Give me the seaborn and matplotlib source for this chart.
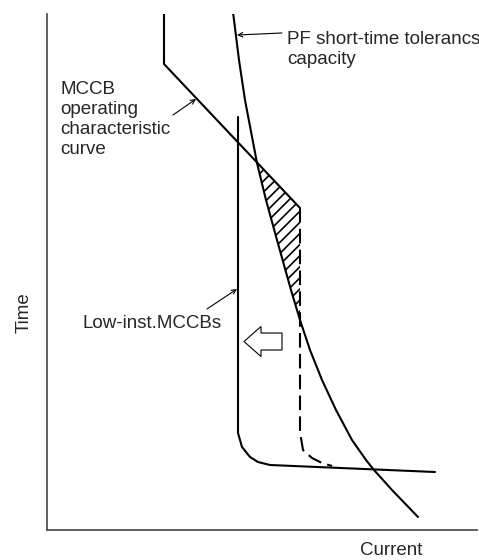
import numpy as np
import pandas as pd
import seaborn as sns
import matplotlib.pyplot as plt

# curves (current, time) in arbitrary units
mccb_cur = [117, 117, 253]
mccb_time = [522, 466, 322]

mccb_dash_cur = [253, 253, 256, 265, 275, 285]
mccb_dash_time = [322, 98, 80, 72, 67, 64]

low_cur = [191, 191, 195, 203, 211, 223, 388]
low_time = [413, 97, 83, 73, 68, 65, 58]

pf_cur = [186, 192, 198, 210, 219, 230, 244, 253, 263, 275, 289, 305, 319, 327, 345, 371]
pf_time = [518, 470, 430, 367, 330, 290, 240, 210, 180, 150, 120, 90, 70, 60, 40, 13]

labels = ["PF short-time tolerancs\ncapacity",
          "MCCB\noperating\ncharacteristic\ncurve",
          "Low-inst.MCCBs"]


def main():
    sns.set_style("white")
    plt.rcParams['font.family'] = ['Liberation Sans', 'DejaVu Sans']
    plt.rcParams['hatch.linewidth'] = 1.2

    fig = plt.figure(figsize=(4.79, 5.6), dpi=100)
    ax = fig.add_axes([47 / 479, 30 / 560, 430 / 479, 516 / 560])

    lw = 1.5
    sns.lineplot(x=mccb_cur, y=mccb_time, sort=False, estimator=None,
                 color="black", lw=lw, ax=ax)
    sns.lineplot(x=mccb_dash_cur, y=mccb_dash_time, sort=False, estimator=None,
                 color="black", lw=lw, ax=ax)
    ax.lines[-1].set_dashes((7, 3))
    sns.lineplot(x=low_cur, y=low_time, sort=False, estimator=None,
                 color="black", lw=lw, ax=ax)
    sns.lineplot(x=pf_cur, y=pf_time, sort=False, estimator=None,
                 color="black", lw=lw, ax=ax)

    # hatched zone between PF curve and MCCB curve
    t = np.linspace(200, 380, 400)
    left = np.interp(t, pf_time[::-1], pf_cur[::-1])
    right = np.interp(t, [mccb_dash_time[1]] + mccb_time[::-1],
                      [mccb_dash_cur[1]] + mccb_cur[::-1])
    ax.fill_betweenx(t, left, right, where=right > left, hatch="///",
                     facecolor="none", edgecolor="black", lw=0)

    # hollow arrow pointing to lower current
    ax.arrow(235, 188.5, -38, 0, width=17, head_width=30, head_length=17,
             length_includes_head=True, fc="white", ec="black", lw=0.8)

    fs = 13.5
    leader = dict(arrowstyle="->", lw=0.8, color="black", mutation_scale=8,
                  shrinkA=0, shrinkB=0)
    # va="baseline" puts the last line's baseline on the anchor
    ax.text(240, 466, labels[0], fontsize=fs, va="baseline", ha="left",
            linespacing=1.22)
    ax.annotate("", xy=(190, 495), xytext=(235, 497), arrowprops=leader)
    ax.text(13, 376, labels[1], fontsize=fs, va="baseline", ha="left",
            linespacing=1.22)
    ax.annotate("", xy=(149, 431), xytext=(126, 415), arrowprops=leader)
    ax.text(35, 202, labels[2], fontsize=fs, va="baseline", ha="left")
    ax.annotate("", xy=(190, 241), xytext=(160, 221), arrowprops=leader)

    ax.text(344, -25, "Current", fontsize=fs, ha="center", va="baseline",
            clip_on=False)
    ax.text(-23, 217, "Time", fontsize=fs, ha="center", va="center",
            rotation=90, clip_on=False)

    ax.set_xlim(0, 430)
    ax.set_ylim(0, 516)
    ax.set_xticks([])
    ax.set_yticks([])
    ax.set_xlabel("")
    ax.set_ylabel("")
    sns.despine(ax=ax)
    for side in ["left", "bottom"]:
        ax.spines[side].set_color("#444444")
        ax.spines[side].set_linewidth(1.2)

    fig.savefig("out.png", dpi=100)


if __name__ == "__main__":
    main()
